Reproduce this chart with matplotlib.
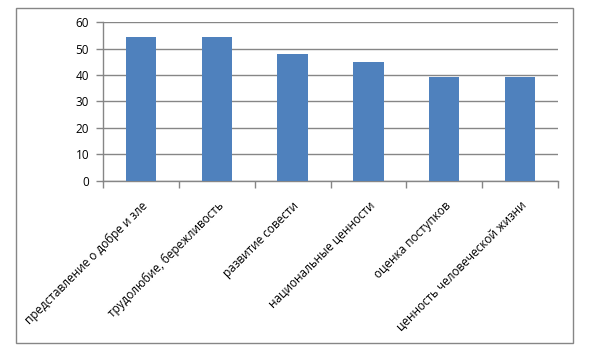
import matplotlib
matplotlib.use("Agg")
import matplotlib.pyplot as plt
import numpy as np

categories = ["представление о добре и зле", "трудолюбие, бережливость", "развитие совести",
              "национальные ценности", "оценка поступков", "ценность человеческой жизни"]
values = [54.5, 54.5, 48, 45, 39.3, 39.3]
yticks = [0, 10, 20, 30, 40, 50, 60]

plt.rcParams['font.family'] = ['Open Sans', 'DejaVu Sans']
gray = '#868686'
fig = plt.figure(figsize=(5.99, 3.53), dpi=100)
fig.patch.set_facecolor('white')
# outer frame
fig.add_artist(plt.Rectangle((16/599, 1-343/353), (573-16)/599, (343-8)/353,
                             fill=False, edgecolor=gray, linewidth=1.0, transform=fig.transFigure))
ax = fig.add_axes([103/599, 1-181/353, (558-103)/599, (181-22)/353])
x = np.arange(len(categories))
ax.bar(x, values, width=0.4, color='#4F81BD', zorder=3)
ax.set_xlim(-0.5, len(categories)-0.5)
ax.set_ylim(0, 60)
ax.set_yticks(yticks)
ax.set_yticklabels([str(v) for v in yticks], fontsize=8.5)
ax.yaxis.grid(True, color=gray, linewidth=1.0, zorder=0)
ax.set_xticks(x)
ax.set_xticklabels(categories, rotation=45, ha='right', va='top', rotation_mode='anchor', fontsize=8.5)
ax.tick_params(axis='x', which='major', length=0, pad=13)
ax.set_xticks(np.arange(-0.5, len(categories), 1.0), minor=True)
ax.tick_params(axis='x', which='minor', length=5, color=gray, width=1)
ax.tick_params(axis='y', length=5, color=gray, width=1, pad=5)
for s in ['top', 'right']:
    ax.spines[s].set_visible(False)
for s in ['left', 'bottom']:
    ax.spines[s].set_color(gray)
    ax.spines[s].set_linewidth(1.0)
fig.savefig('out.png', dpi=100, facecolor='white')
